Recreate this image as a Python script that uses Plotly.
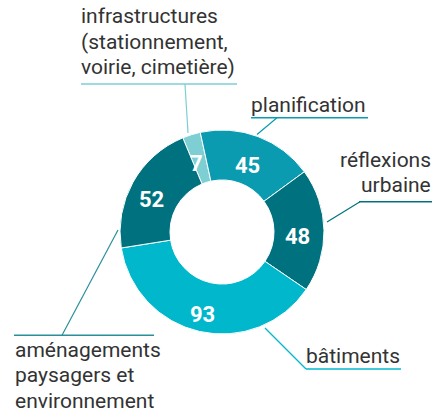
import math
import plotly.graph_objects as go

W, H = 440, 415

categories = ["infrastructures (stationnement, voirie, cimetière)", "planification",
              "réflexions urbaine", "bâtiments", "aménagements paysagers et environnement"]
values = [7, 45, 48, 93, 52]
colors = ["#7dcfd4", "#0a9bb0", "#00727f", "#00b7cc", "#00727f"]

label_lines = [
    ["infrastructures", "(stationnement,", "voirie, cimetière)"],
    ["planification"],
    ["réflexions", "urbaine"],
    ["bâtiments"],
    ["aménagements", "paysagers et", "environnement"],
]

def px(x):
    return x / W

def py(y):
    return 1 - y / H

# donut geometry (pixels)
CX, CY, R = 222, 232, 102
HOLE = 0.51
ROTATION = -22.6

fig = go.Figure()
fig.add_trace(go.Pie(
    labels=categories,
    values=values,
    sort=False,
    direction="clockwise",
    rotation=ROTATION,
    hole=HOLE,
    marker=dict(colors=colors, line=dict(color="white", width=1)),
    textinfo="none",
    hoverinfo="label+value",
    showlegend=False,
    domain=dict(x=[px(CX - R), px(CX + R)], y=[py(CY + R), py(CY - R)]),
))

annotations = []
shapes = []

# value labels at each slice's mid angle
total = sum(values)
acc = 0
r_txt = R * (1 + HOLE) / 2 + 1
for v in values:
    mid = ROTATION + 360 * (acc + v / 2) / total
    acc += v
    t = math.radians(mid)
    x = CX + r_txt * math.sin(t) - 2
    y = CY - r_txt * math.cos(t) + 6
    annotations.append(dict(
        text=str(v), x=px(x), y=py(y), xref="paper", yref="paper",
        xanchor="center", yanchor="middle", showarrow=False,
        font=dict(family="Roboto", size=22, color="white", weight="bold"),
    ))

# category label layout (style)
label_style = [
    dict(x=81, anchor="left", base=23.3, color="#7dcfd4",
         rule=(81, 237, 84), lead=((185, 84), (188, 133))),
    dict(x=251, anchor="left", base=111.5, color="#0a9bb0",
         rule=(251, 368, 117.7), lead=((277, 117.7), (257, 134.5))),
    dict(x=431, anchor="right", base=166.7, color="#00727f",
         rule=(359, 432, 201.7), lead=((360, 201.7), (327, 222))),
    dict(x=306, anchor="left", base=362.7, color="#00b7cc",
         rule=(306, 401, 369), lead=((306, 369), (265, 328))),
    dict(x=15, anchor="left", base=356.7, color="#2a8f99",
         rule=(14, 154, 335.3), lead=((62, 335.3), (118, 230))),
]
LINE_GAP = 25.5

for lines, st in zip(label_lines, label_style):
    for i, t in enumerate(lines):
        b = st["base"] + i * LINE_GAP
        xa = st["x"] - 2 if st["anchor"] == "left" else st["x"] + 2
        annotations.append(dict(
            text=t, x=px(xa), y=py(b + 7), xref="paper", yref="paper",
            xanchor=st["anchor"], yanchor="bottom", showarrow=False,
            font=dict(family="Roboto", size=21, color="#333333"),
        ))
    x0, x1, yr = st["rule"]
    shapes.append(dict(type="line", xref="paper", yref="paper",
                       x0=px(x0), x1=px(x1), y0=py(yr), y1=py(yr),
                       line=dict(color=st["color"], width=1.5)))
    (ax, ay), (bx, by) = st["lead"]
    shapes.append(dict(type="line", xref="paper", yref="paper",
                       x0=px(ax), x1=px(bx), y0=py(ay), y1=py(by),
                       line=dict(color=st["color"], width=1.2)))

fig.update_layout(
    width=W, height=H,
    margin=dict(l=0, r=0, t=0, b=0),
    paper_bgcolor="white", plot_bgcolor="white",
    annotations=annotations, shapes=shapes,
    font=dict(family="Roboto"),
)

fig.write_html("out.html", config={"displayModeBar": False},
               post_script="document.body.style.margin='0';document.body.style.padding='0';")
